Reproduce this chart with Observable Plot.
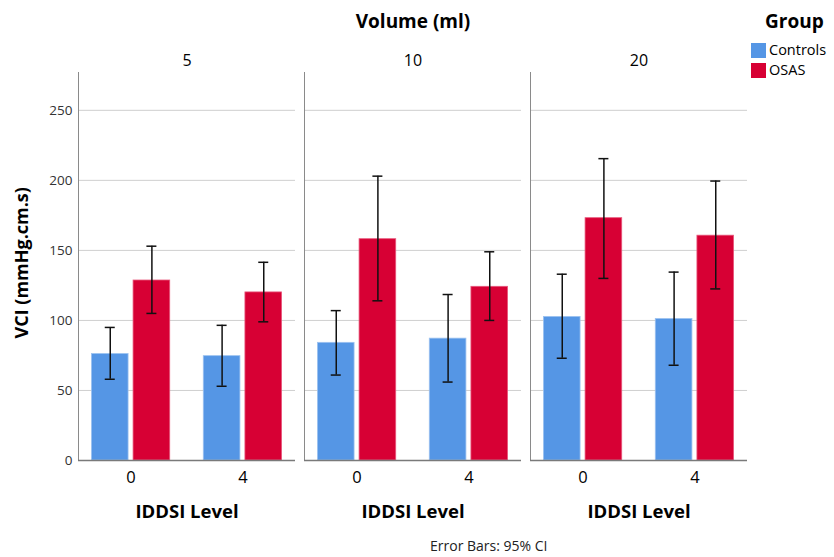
<!DOCTYPE html>
<html>
<head>
<meta charset="utf-8">
<script src="https://cdn.jsdelivr.net/npm/d3@7"></script>
<script src="https://cdn.jsdelivr.net/npm/@observablehq/plot@0.6"></script>
<style>
  body { margin: 0; background: #fff; font-family: "Open Sans", sans-serif; }
  #chart { position: relative; width: 834px; height: 557px; }
  #chart svg { position: absolute; left: 0; top: 0; }
  .lbl { position: absolute; color: #000; white-space: nowrap; line-height: 1.2; }
  .leg { line-height: 1; }
  .sw { position: absolute; width: 15px; height: 15px; }
</style>
</head>
<body>
<div id="chart">
  <div class="lbl" style="left:0;width:826px;text-align:center;top:10px;font-weight:bold;font-size:19px;">Volume (ml)</div>
  <div class="lbl" style="left:765px;top:10px;font-weight:bold;font-size:19px;">Group</div>
  <div class="sw" style="left:751px;top:43px;background:#5596e5;"></div>
  <div class="lbl leg" style="left:769px;top:43px;font-size:14.5px;">Controls</div>
  <div class="sw" style="left:751px;top:63px;background:#d70034;"></div>
  <div class="lbl leg" style="left:769px;top:63px;font-size:14.5px;">OSAS</div>
  <div class="lbl" style="left:-128px;width:300px;text-align:center;top:252px;font-weight:bold;font-size:18px;transform:rotate(-90deg);transform-origin:150px 50%;">VCI (mmHg.cm.s)</div>
  <div class="lbl" style="left:430px;top:538px;font-size:14px;color:#222;">Error Bars: 95% CI</div>
</div>
<script>
// Facets, categories and groups
const volumes = ["5", "10", "20"];
const levels = ["0", "4"];
const groups = ["Controls", "OSAS"];
const yTicks = [0, 50, 100, 150, 200, 250];

// Mean VCI (mmHg.cm.s) per volume (rows) and IDDSI level (columns)
const controlsMean = [[76, 74.5], [84, 87], [102.5, 101]];
const osasMean = [[128.5, 120], [158, 124], [173, 160.5]];

// 95% CI bounds
const controlsLow = [[58, 53], [61, 56], [73, 68]];
const controlsHigh = [[95, 96.5], [107, 118.5], [133, 134.5]];
const osasLow = [[105, 99], [114, 100], [130, 122.5]];
const osasHigh = [[153, 141.5], [203, 149], [215.5, 199.5]];

const colors = { Controls: "#5596e5", OSAS: "#d70034" };

const rows = [];
volumes.forEach((v, i) => levels.forEach((l, j) => {
  rows.push({ volume: v, level: l, group: groups[0], mean: controlsMean[i][j], lo: controlsLow[i][j], hi: controlsHigh[i][j] });
  rows.push({ volume: v, level: l, group: groups[1], mean: osasMean[i][j], lo: osasLow[i][j], hi: osasHigh[i][j] });
}));

// Layout
const W = 834, H = 557;
const mL = 78, mR = 87, mT = 72, mB = 97;
const facetGap = 9;
const facetW = (W - mL - mR - 2 * facetGap) / 3;
const padIn = 0.3, padOut = 0.12;
const bw = facetW / (2 - padIn + 2 * padOut) * (1 - padIn);
const gap = 5;              // gap between the two bars of a level
const half = bw / 2;
const off = (half - gap / 2) / 2 + gap / 2; // bar centre offset from band centre
const capW = 10;

const ctrl = rows.filter(d => d.group === groups[0]);
const osas = rows.filter(d => d.group === groups[1]);

const errMarks = (data, sign) => [
  Plot.ruleX(data, { fx: "volume", x: "level", y1: "lo", y2: "hi", dx: sign * off, stroke: "#111", strokeWidth: 1.5 }),
  Plot.tickY(data, { fx: "volume", x: "level", y: "hi", dx: sign * off, insetLeft: half - capW / 2, insetRight: half - capW / 2, stroke: "#111", strokeWidth: 1.5 }),
  Plot.tickY(data, { fx: "volume", x: "level", y: "lo", dx: sign * off, insetLeft: half - capW / 2, insetRight: half - capW / 2, stroke: "#111", strokeWidth: 1.5 })
];

const chart = Plot.plot({
  width: W,
  height: H,
  marginLeft: mL,
  marginRight: mR,
  marginTop: mT,
  marginBottom: mB,
  style: { fontFamily: "Open Sans, sans-serif", background: "transparent" },
  fx: { domain: volumes, paddingInner: facetGap / (facetW + facetGap), paddingOuter: 0, round: false, axis: null },
  x: { domain: levels, paddingInner: padIn, paddingOuter: padOut, round: false, axis: null },
  y: { domain: [0, 277], axis: null },
  marks: [
    // horizontal gridlines
    Plot.ruleY(yTicks.filter(t => t > 0), { stroke: "#cfcfcf", strokeWidth: 1 }),
    // left edge of each panel
    Plot.frame({ anchor: "left", stroke: "#8a8a8a", strokeWidth: 1 }),
    // bars
    Plot.barY(ctrl, { fx: "volume", x: "level", y: "mean", fill: colors.Controls, insetLeft: 0, insetRight: half + gap / 2, stroke: "#9cc2f0", strokeWidth: 0.8 }),
    Plot.barY(osas, { fx: "volume", x: "level", y: "mean", fill: colors.OSAS, insetLeft: half + gap / 2, insetRight: 0, stroke: "#e8587c", strokeWidth: 0.8 }),
    // baseline
    Plot.ruleY([0], { stroke: "#7a7a7a", strokeWidth: 1.5 }),
    // error bars
    ...errMarks(ctrl, -1),
    ...errMarks(osas, 1),
    // y tick labels (first panel only)
    Plot.text(yTicks, { fx: () => volumes[0], y: d => d, text: d => String(d), frameAnchor: "left", dx: -6, textAnchor: "end", fontSize: 13.5, fill: "#333" }),
    // panel headers
    Plot.text(volumes, { fx: d => d, text: d => d, frameAnchor: "top", dy: -18, fontSize: 16, fill: "#000" }),
    // x tick labels
    Plot.text(levels, { x: d => d, text: d => d, frameAnchor: "bottom", dy: 22, fontSize: 16.5, fill: "#000" }),
    // x axis title in each panel
    Plot.text(["IDDSI Level"], { frameAnchor: "bottom", dy: 57, fontSize: 18.5, fontWeight: "bold", fill: "#000" })
  ]
});

document.getElementById("chart").prepend(chart);
</script>
</body>
</html>
